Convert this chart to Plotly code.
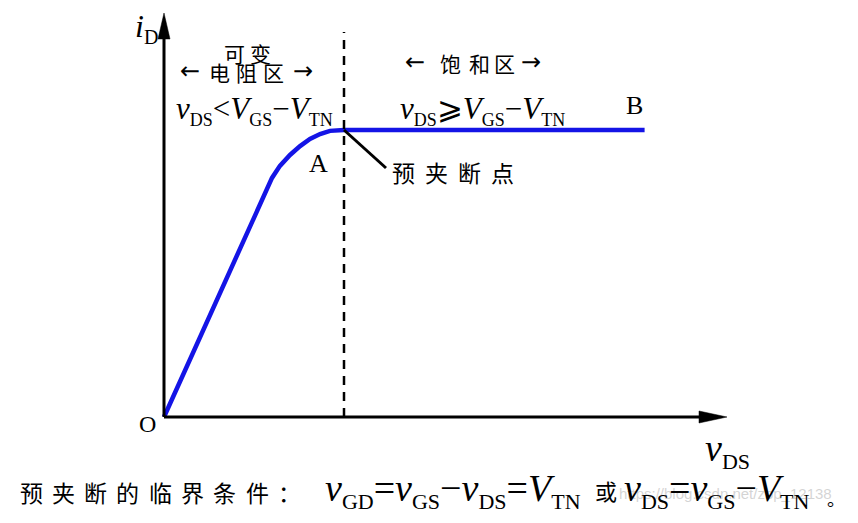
import plotly.graph_objects as go

# ---- data (vDS normalised so pinch-off A is at 1.0, iD normalised to saturation) ----
vds = [0.0, 0.600, 0.644, 0.700, 0.756, 0.811, 0.867, 0.922, 1.0, 2.67]
i_d = [0.0, 0.833, 0.875, 0.913, 0.944, 0.969, 0.986, 0.997, 1.0, 1.0]
pinch_v = 1.0
chinese_caption = "预夹断的临界条件："
pinch_label = "预夹断点"

# ---- layout geometry (page-pixel mapping; page has an 8px body margin) ----
PAGE_W, PAGE_H = 858, 523
M = 8
W, H = PAGE_W - M, PAGE_H - M
OX, OY = 164, 417          # origin in page pixels
XU, YU = 180.0, 287.0      # pixels per data unit

def dx(px):
    return (px - OX) / XU

def dy(py):
    return (OY - py) / YU

xr = [dx(M), dx(PAGE_W)]
yr = [dy(PAGE_H), dy(M)]

SERIF = "Liberation Serif, Times New Roman, Noto Sans CJK SC, serif"
CJK = "Noto Sans CJK SC, sans-serif"

fig = go.Figure()

fig.add_trace(go.Scatter(x=vds, y=i_d, mode="lines",
                         line=dict(color="#1414e6", width=4.5),
                         hoverinfo="skip", showlegend=False))

shapes = []
# axes
shapes.append(dict(type="line", x0=dx(OX), y0=dy(OY), x1=dx(705), y1=dy(OY),
                   line=dict(color="black", width=3)))
shapes.append(dict(type="line", x0=dx(OX), y0=dy(OY), x1=dx(OX), y1=dy(33),
                   line=dict(color="black", width=3)))
# arrow heads
shapes.append(dict(type="path",
                   path=f"M {dx(727)} {dy(OY)} L {dx(699)} {dy(OY-6)} L {dx(699)} {dy(OY+6)} Z",
                   fillcolor="black", line=dict(color="black", width=0.5)))
shapes.append(dict(type="path",
                   path=f"M {dx(OX)} {dy(13)} L {dx(OX-6)} {dy(39)} L {dx(OX+6)} {dy(39)} Z",
                   fillcolor="black", line=dict(color="black", width=0.5)))
# dashed boundary at pinch-off
shapes.append(dict(type="line", x0=pinch_v, y0=0, x1=pinch_v, y1=dy(32),
                   line=dict(color="black", width=2.5, dash="9px,7px")))
# pointer line to label
shapes.append(dict(type="line", x0=pinch_v, y0=1.0, x1=dx(386), y1=dy(168),
                   line=dict(color="black", width=3)))

ann = []

def add(text, xpx, ypx, size, xanchor="center", family=SERIF, color="black"):
    ann.append(dict(text=text, x=dx(xpx), y=dy(ypx), xref="x", yref="y",
                    showarrow=False, xanchor=xanchor, yanchor="middle",
                    font=dict(family=family, size=size, color=color)))

def sub(t, s):
    return f"<sub><span style='font-size:{s}px'>{t}</span></sub>"

# watermark
add("https://blog.csdn.net/zbp_12138", 617, 493, 15, xanchor="left",
    family="Liberation Sans Narrow, Liberation Sans, sans-serif", color="rgba(170,170,170,0.5)")

add("<i>i</i>" + sub("D", 20), 146, 28, 32)
add("O", 147, 424, 24)
add("<i>v</i>" + sub("DS", 22), 727, 450, 38)
add("A", 318, 163, 26)
add("B", 634, 105, 26)

# regions
for ch, x in zip("可变", [234, 260]):
    add(ch, x, 53, 21, family=CJK)
add("←", 190, 71, 24, family="DejaVu Sans")
for ch, x in zip("电阻区", [219, 246, 273]):
    add(ch, x, 72, 21, family=CJK)
add("→", 303, 71, 24, family="DejaVu Sans")

add("←", 415, 62, 24, family="DejaVu Sans")
for ch, x in zip("饱和区", [450, 479, 504]):
    add(ch, x, 63, 21, family=CJK)
add("→", 531, 62, 24, family="DejaVu Sans")

add("<i>v</i>" + sub("DS", 18) + "&lt;<i>V</i>" + sub("GS", 18) + "−<i>V</i>" + sub("TN", 18),
    174, 110, 31, xanchor="left")
add("<i>v</i>" + sub("DS", 18) + "⩾<i>V</i>" + sub("GS", 18) + "−<i>V</i>" + sub("TN", 18),
    398, 110, 31, xanchor="left")

for k, ch in enumerate(pinch_label):
    add(ch, 403 + 33 * k, 172, 23, family=CJK)

# bottom caption
for k, ch in enumerate(chinese_caption):
    add(ch, 31 + 32.3 * k, 492, 23, family=CJK)
cap = ("<i>v</i>" + sub("GD", 22) + "=<i>v</i>" + sub("GS", 22) + "−<i>v</i>" + sub("DS", 22)
       + "=<i>V</i>" + sub("TN", 22))
add(cap, 323, 490, 38, xanchor="left")
add("或", 606, 490, 22, family=CJK)
cap2 = ("<i>v</i>" + sub("DS", 22) + "=<i>v</i>" + sub("GS", 22) + "−<i>V</i>" + sub("TN", 22))
add(cap2, 622, 490, 38, xanchor="left")
add("。", 836, 498, 18, family=CJK)

fig.update_layout(
    width=W, height=H, autosize=False,
    margin=dict(l=0, r=0, t=0, b=0, pad=0),
    paper_bgcolor="white", plot_bgcolor="white",
    xaxis=dict(range=xr, visible=False, fixedrange=True),
    yaxis=dict(range=yr, visible=False, fixedrange=True),
    shapes=shapes, annotations=ann, showlegend=False,
)

fig.write_html("out.html")
